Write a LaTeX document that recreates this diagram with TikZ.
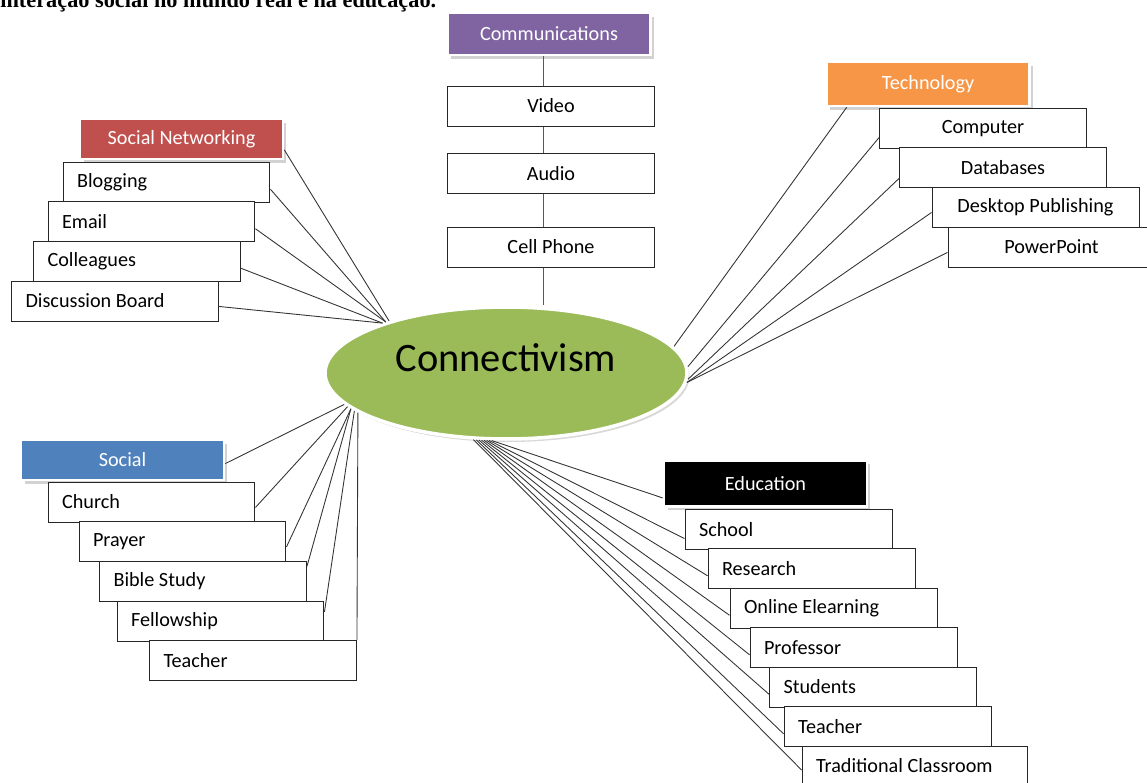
\documentclass[tikz,border=0pt]{standalone}
\usepackage{fontspec}
\setmainfont{Carlito}
\newfontfamily\introfont{Liberation Serif}
\usetikzlibrary{shapes.geometric,shadows}
\definecolor{commcol}{HTML}{8064A2}
\definecolor{techcol}{HTML}{F79646}
\definecolor{netcol}{HTML}{C0504D}
\definecolor{socialcol}{HTML}{4F81BD}
\definecolor{hubcol}{HTML}{9BBB59}
\tikzset{
  head/.style={rectangle, draw=white, line width=1.5pt, text=white,
    minimum width=4.06cm, minimum height=0.84cm,
    font=\fontsize{11.5}{13}\selectfont,
    drop shadow={shadow xshift=0.07cm, shadow yshift=-0.07cm, fill=black!35, opacity=0.5}},
  item/.style={rectangle, draw=black!85, line width=0.55pt, fill=white,
    minimum width=4.14cm, minimum height=0.8cm, font=\fontsize{11.5}{13}\selectfont},
  litem/.style={item, text width=3.58cm, align=flush left, inner xsep=0.28cm},
  link/.style={draw=black!80, line width=0.5pt}
}
\begin{document}
\begin{tikzpicture}[x=0.02cm, y=-0.02cm]
\useasboundingbox (0,0) rectangle (1147,782);
\clip (0,0) rectangle (1147,782);
\node[anchor=base west, inner sep=0, font=\introfont\bfseries\fontsize{12.7}{15}\selectfont] (intro) at (0,7)
  {interação social no mundo real e na educação.};

% centre
\node[ellipse, fill=hubcol, draw=white, line width=2pt, minimum width=7.24cm, minimum height=2.64cm,
  inner sep=0, text height=0.55cm, text depth=0.62cm, font=\fontsize{23}{27}\selectfont,
  drop shadow={shadow xshift=0.05cm, shadow yshift=-0.06cm, fill=black!30, opacity=0.5}] (c) at (506,373) {Connectivism};

% communications
\node[head, fill=commcol] (comm) at (549,34) {Communications};
\draw[link, draw=black!65] (comm.south -| 543,0) -- (543,0 |- c.north);
\node[item] (video) at (551,106) {Video};
\node[item] (audio) at (551,173.5) {Audio};
\node[item] (cell) at (551,247) {Cell Phone};

% technology
\node[head, fill=techcol, minimum height=0.88cm] (tech) at (928,84) {Technology};
\node[item] (computer) at (983,128.5) {Computer};
\node[item] (databases) at (1003,167.5) {Databases};
\node[item] (desktop) at (1035.5,207) {Desktop Publishing};
\node[item] (power) at (1051.5,247) {PowerPoint};
\draw[link] (tech.196) -- (c.9);
\draw[link] (computer.185) -- (c.2);
\draw[link] (databases.186) -- (c.-2);
\draw[link] (desktop.183) -- (c.-3);
\draw[link] (power.183) -- (c.-3.5);

% social networking
\node[head, fill=netcol, minimum height=0.8cm] (snet) at (181.5,139) {Social Networking};
\node[litem] (blog) at (166.5,182) {Blogging};
\node[litem] (email) at (151.5,221.5) {Email};
\node[litem] (coll) at (137,261) {Colleagues};
\node[litem] (disc) at (115,301) {Discussion Board};
\draw[link] (snet.-6) -- (c.156.5);
\draw[link] (blog.-4) -- (c.157);
\draw[link] (email.-4) -- (c.157.5);
\draw[link] (coll.-4) -- (c.158);
\draw[link] (disc.-3) -- (c.158);

% social
\node[head, fill=socialcol, minimum height=0.8cm] (social) at (122.5,460) {Social};
\node[litem] (church) at (151.5,502) {Church};
\node[litem] (prayer) at (182.5,541.5) {Prayer};
\node[litem] (bible) at (203,581) {Bible Study};
\node[litem] (fellow) at (220.5,621) {Fellowship};
\node[litem] (steach) at (253,660.5) {Teacher};
\draw[link] (social.-2) -- (c.191);
\draw[link] (church.-3) -- (c.192);
\draw[link] (prayer.-3) -- (c.193);
\draw[link] (bible.8) -- (c.193.5);
\draw[link] (fellow.5) -- (c.194.5);
\draw[link] (steach.north east) -- (c.195.5);

% education
\node[head, fill=black, minimum height=0.92cm] (edu) at (765.5,483.5) {Education};
\node[litem] (school) at (788.5,529.5) {School};
\node[litem] (research) at (811.5,568.5) {Research};
\node[litem] (online) at (833.5,608) {Online Elearning};
\node[litem] (prof) at (853.5,647.5) {Professor};
\node[litem] (students) at (873,687) {Students};
\node[litem] (eteach) at (887.5,726.5) {Teacher};
\node[litem, text width=3.94cm] (trad) at (914.5,766) {Traditional Classroom};
\draw[link] (edu.188) -- (c.258);
\draw[link] (school.185) -- (c.256);
\draw[link] (research.184) -- (c.254);
\draw[link] (online.184) -- (c.252);
\draw[link] (prof.184) -- (c.250);
\draw[link] (students.184) -- (c.248);
\draw[link] (eteach.184) -- (c.246);
\draw[link] (trad.182) -- (c.244);
\end{tikzpicture}
\end{document}
